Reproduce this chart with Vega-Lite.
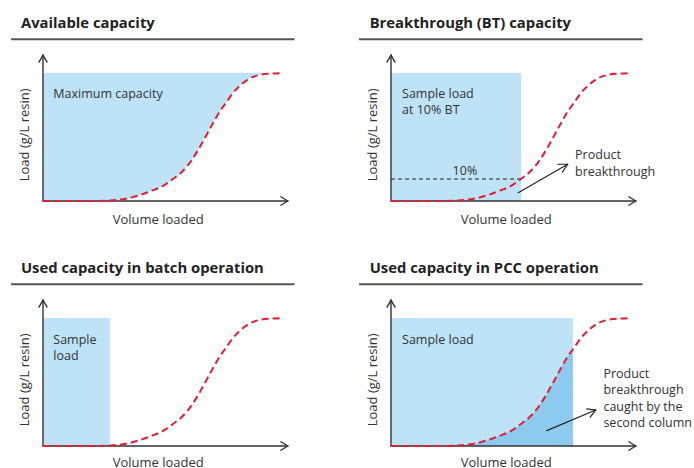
{
  "$schema": "https://vega.github.io/schema/vega-lite/v6.json",
  "padding": 0,
  "bounds": "flush",
  "spacing": 0,
  "columns": 2,
  "config": {"view": {"stroke": null}},
  "datasets": {
    "curve": [
      {"x": 0, "y": 0}, {"x": 10, "y": 0}, {"x": 20, "y": 0}, {"x": 28, "y": 0.4},
      {"x": 34, "y": 1.6}, {"x": 40, "y": 4.4}, {"x": 45, "y": 7.8}, {"x": 50, "y": 11.8},
      {"x": 54, "y": 17}, {"x": 58, "y": 23}, {"x": 62, "y": 32}, {"x": 65, "y": 41},
      {"x": 70, "y": 58}, {"x": 74, "y": 71}, {"x": 75.8, "y": 75.6}, {"x": 79, "y": 84},
      {"x": 85, "y": 94.5}, {"x": 90, "y": 98.4}, {"x": 95, "y": 99.5}, {"x": 100, "y": 100}
    ],
    "segs": [
      {"panel": "all", "kind": "axis", "x": 0, "y": 0, "x2": 0, "y2": 114},
      {"panel": "all", "kind": "axis", "x": 0, "y": 114, "x2": -1.667, "y2": 108.5},
      {"panel": "all", "kind": "axis", "x": 0, "y": 114, "x2": 1.667, "y2": 108.5},
      {"panel": "all", "kind": "axis", "x": 0, "y": 0, "x2": 102, "y2": 0},
      {"panel": "all", "kind": "axis", "x": 102, "y": 0, "x2": 99.1, "y2": 3.3},
      {"panel": "all", "kind": "axis", "x": 102, "y": 0, "x2": 99.1, "y2": -3.3},
      {"panel": "all", "kind": "under", "x": -13.3, "y": 126.4, "x2": 104.8, "y2": 126.4},
      {"panel": "p2", "kind": "dash", "x": 0, "y": 17.2, "x2": 54.2, "y2": 17.2},
      {"panel": "p2", "kind": "arrow", "x": 53.0, "y": 6.5, "x2": 73.6, "y2": 28.7},
      {"panel": "p2", "kind": "arrow", "x": 73.6, "y": 28.7, "x2": 69.5, "y2": 28.7},
      {"panel": "p2", "kind": "arrow", "x": 73.6, "y": 28.7, "x2": 71.4, "y2": 22.6},
      {"panel": "p4", "kind": "arrow", "x": 64.9, "y": 12.0, "x2": 85.3, "y2": 28.1},
      {"panel": "p4", "kind": "arrow", "x": 85.3, "y": 28.1, "x2": 81.6, "y2": 29.0},
      {"panel": "p4", "kind": "arrow", "x": 85.3, "y": 28.1, "x2": 83.0, "y2": 22.5}
    ],
    "rects": [
      {"panel": "p2", "x": 0, "x2": 54.2, "y": 0, "y2": 100},
      {"panel": "p3", "x": 0, "x2": 27.9, "y": 0, "y2": 100},
      {"panel": "p4", "x": 0, "x2": 75.8, "y": 0, "y2": 100}
    ],
    "labels": [
      {"panel": "p1", "kind": "title", "x": -9.2, "y": 134.9, "text": "Available capacity"},
      {"panel": "p2", "kind": "title", "x": -8.9, "y": 134.9, "text": "Breakthrough (BT) capacity"},
      {"panel": "p3", "kind": "title", "x": -9.2, "y": 134.9, "text": "Used capacity in batch operation"},
      {"panel": "p4", "kind": "title", "x": -8.9, "y": 134.9, "text": "Used capacity in PCC operation"},
      {"panel": "p1", "kind": "note", "x": 4.3, "y": 80.7, "text": "Maximum capacity"},
      {"panel": "p2", "kind": "note", "x": 4.6, "y": 80.7, "text": "Sample load\nat 10% BT"},
      {"panel": "p2", "kind": "note", "x": 76.7, "y": 32.6, "text": "Product\nbreakthrough"},
      {"panel": "p2", "kind": "mid", "x": 30.8, "y": 20, "text": "10%"},
      {"panel": "p3", "kind": "note", "x": 4.3, "y": 79.9, "text": "Sample\nload"},
      {"panel": "p4", "kind": "note", "x": 4.6, "y": 79.9, "text": "Sample load"},
      {"panel": "p4", "kind": "note", "x": 88.5, "y": 53.4, "text": "Product\nbreakthrough\ncaught by the\nsecond column"},
      {"panel": "top", "kind": "xl", "x": 48, "y": -18, "text": "Volume loaded"},
      {"panel": "bottom", "kind": "xl", "x": 48, "y": -16.3, "text": "Volume loaded"},
      {"panel": "all", "kind": "yl", "x": -5.7, "y": 51.7, "text": "Load (g/L resin)"}
    ]
  },
  "concat": [
    {
      "width": 347, "height": 234,
      "encoding": {
        "x": {"field": "x", "type": "quantitative", "scale": {"domain": [-17.917, 126.667], "nice": false, "zero": false}, "axis": null},
        "y": {"field": "y", "type": "quantitative", "scale": {"domain": [-25.781, 157.031], "nice": false, "zero": false}, "axis": null}
      },
      "layer": [
        {"data": {"name": "curve"}, "mark": {"type": "area", "color": "#bee3f7", "opacity": 1, "interpolate": "monotone"}, "encoding": {"y2": {"datum": 100}}},
        {"data": {"name": "segs"}, "transform": [{"filter": "datum.kind == 'axis'"}], "mark": {"type": "rule", "color": "#333333", "strokeWidth": 1.4, "strokeCap": "round"}, "encoding": {"x2": {"field": "x2"}, "y2": {"field": "y2"}}},
        {"data": {"name": "segs"}, "transform": [{"filter": "datum.kind == 'under'"}], "mark": {"type": "rule", "color": "#555555", "strokeWidth": 2}, "encoding": {"x2": {"field": "x2"}, "y2": {"field": "y2"}}},
        {"data": {"name": "curve"}, "mark": {"type": "line", "color": "#e21f36", "strokeWidth": 2, "strokeDash": [7, 4], "interpolate": "monotone"}},
        {"data": {"name": "labels"}, "transform": [{"filter": "datum.panel == 'p1' && datum.kind == 'title'"}], "mark": {"type": "text", "font": "Open Sans", "fontWeight": "bold", "fontSize": 14.8, "color": "#222222", "align": "left", "baseline": "alphabetic"}, "encoding": {"text": {"field": "text"}}},
        {"data": {"name": "labels"}, "transform": [{"filter": "datum.panel == 'p1' && datum.kind == 'note'"}], "mark": {"type": "text", "font": "Open Sans", "fontSize": 12.5, "color": "#333333", "align": "left", "baseline": "alphabetic", "lineBreak": "\n", "lineHeight": 16.5}, "encoding": {"text": {"field": "text"}}},
        {"data": {"name": "labels"}, "transform": [{"filter": "datum.kind == 'xl' && datum.panel == 'top'"}], "mark": {"type": "text", "font": "Open Sans", "fontSize": 13, "color": "#333333", "align": "center", "baseline": "alphabetic"}, "encoding": {"text": {"field": "text"}}},
        {"data": {"name": "labels"}, "transform": [{"filter": "datum.kind == 'yl'"}], "mark": {"type": "text", "font": "Open Sans", "fontSize": 13, "color": "#333333", "align": "center", "baseline": "alphabetic", "angle": 270}, "encoding": {"text": {"field": "text"}}}
      ]
    },
    {
      "width": 347, "height": 234,
      "encoding": {
        "x": {"field": "x", "type": "quantitative", "scale": {"domain": [-18.333, 126.25], "nice": false, "zero": false}, "axis": null},
        "y": {"field": "y", "type": "quantitative", "scale": {"domain": [-25.781, 157.031], "nice": false, "zero": false}, "axis": null}
      },
      "layer": [
        {"data": {"name": "rects"}, "transform": [{"filter": "datum.panel == 'p2'"}], "mark": {"type": "rect", "color": "#bee3f7", "opacity": 1}, "encoding": {"x2": {"field": "x2"}, "y2": {"field": "y2"}}},
        {"data": {"name": "segs"}, "transform": [{"filter": "datum.kind == 'axis'"}], "mark": {"type": "rule", "color": "#333333", "strokeWidth": 1.4, "strokeCap": "round"}, "encoding": {"x2": {"field": "x2"}, "y2": {"field": "y2"}}},
        {"data": {"name": "segs"}, "transform": [{"filter": "datum.kind == 'under'"}], "mark": {"type": "rule", "color": "#555555", "strokeWidth": 2}, "encoding": {"x2": {"field": "x2"}, "y2": {"field": "y2"}}},
        {"data": {"name": "segs"}, "transform": [{"filter": "datum.panel == 'p2' && datum.kind == 'dash'"}], "mark": {"type": "rule", "color": "#222222", "strokeWidth": 1.2, "strokeDash": [4, 3]}, "encoding": {"x2": {"field": "x2"}, "y2": {"field": "y2"}}},
        {"data": {"name": "segs"}, "transform": [{"filter": "datum.panel == 'p2' && datum.kind == 'arrow'"}], "mark": {"type": "rule", "color": "#222222", "strokeWidth": 1.2, "strokeCap": "round"}, "encoding": {"x2": {"field": "x2"}, "y2": {"field": "y2"}}},
        {"data": {"name": "curve"}, "mark": {"type": "line", "color": "#e21f36", "strokeWidth": 2, "strokeDash": [7, 4], "interpolate": "monotone"}},
        {"data": {"name": "labels"}, "transform": [{"filter": "datum.panel == 'p2' && datum.kind == 'title'"}], "mark": {"type": "text", "font": "Open Sans", "fontWeight": "bold", "fontSize": 14.8, "color": "#222222", "align": "left", "baseline": "alphabetic"}, "encoding": {"text": {"field": "text"}}},
        {"data": {"name": "labels"}, "transform": [{"filter": "datum.panel == 'p2' && datum.kind == 'note'"}], "mark": {"type": "text", "font": "Open Sans", "fontSize": 12.5, "color": "#333333", "align": "left", "baseline": "alphabetic", "lineBreak": "\n", "lineHeight": 16.5}, "encoding": {"text": {"field": "text"}}},
        {"data": {"name": "labels"}, "transform": [{"filter": "datum.panel == 'p2' && datum.kind == 'mid'"}], "mark": {"type": "text", "font": "Open Sans", "fontSize": 12.5, "color": "#333333", "align": "center", "baseline": "alphabetic"}, "encoding": {"text": {"field": "text"}}},
        {"data": {"name": "labels"}, "transform": [{"filter": "datum.kind == 'xl' && datum.panel == 'top'"}], "mark": {"type": "text", "font": "Open Sans", "fontSize": 13, "color": "#333333", "align": "center", "baseline": "alphabetic"}, "encoding": {"text": {"field": "text"}}},
        {"data": {"name": "labels"}, "transform": [{"filter": "datum.kind == 'yl'"}], "mark": {"type": "text", "font": "Open Sans", "fontSize": 13, "color": "#333333", "align": "center", "baseline": "alphabetic", "angle": 270}, "encoding": {"text": {"field": "text"}}}
      ]
    },
    {
      "width": 347, "height": 234,
      "encoding": {
        "x": {"field": "x", "type": "quantitative", "scale": {"domain": [-17.917, 126.667], "nice": false, "zero": false}, "axis": null},
        "y": {"field": "y", "type": "quantitative", "scale": {"domain": [-17.1875, 165.625], "nice": false, "zero": false}, "axis": null}
      },
      "layer": [
        {"data": {"name": "rects"}, "transform": [{"filter": "datum.panel == 'p3'"}], "mark": {"type": "rect", "color": "#bee3f7", "opacity": 1}, "encoding": {"x2": {"field": "x2"}, "y2": {"field": "y2"}}},
        {"data": {"name": "segs"}, "transform": [{"filter": "datum.kind == 'axis'"}], "mark": {"type": "rule", "color": "#333333", "strokeWidth": 1.4, "strokeCap": "round"}, "encoding": {"x2": {"field": "x2"}, "y2": {"field": "y2"}}},
        {"data": {"name": "segs"}, "transform": [{"filter": "datum.kind == 'under'"}], "mark": {"type": "rule", "color": "#555555", "strokeWidth": 2}, "encoding": {"x2": {"field": "x2"}, "y2": {"field": "y2"}}},
        {"data": {"name": "curve"}, "mark": {"type": "line", "color": "#e21f36", "strokeWidth": 2, "strokeDash": [7, 4], "interpolate": "monotone"}},
        {"data": {"name": "labels"}, "transform": [{"filter": "datum.panel == 'p3' && datum.kind == 'title'"}], "mark": {"type": "text", "font": "Open Sans", "fontWeight": "bold", "fontSize": 14.8, "color": "#222222", "align": "left", "baseline": "alphabetic"}, "encoding": {"text": {"field": "text"}}},
        {"data": {"name": "labels"}, "transform": [{"filter": "datum.panel == 'p3' && datum.kind == 'note'"}], "mark": {"type": "text", "font": "Open Sans", "fontSize": 12.5, "color": "#333333", "align": "left", "baseline": "alphabetic", "lineBreak": "\n", "lineHeight": 16.5}, "encoding": {"text": {"field": "text"}}},
        {"data": {"name": "labels"}, "transform": [{"filter": "datum.kind == 'xl' && datum.panel == 'bottom'"}], "mark": {"type": "text", "font": "Open Sans", "fontSize": 13, "color": "#333333", "align": "center", "baseline": "alphabetic"}, "encoding": {"text": {"field": "text"}}},
        {"data": {"name": "labels"}, "transform": [{"filter": "datum.kind == 'yl'"}], "mark": {"type": "text", "font": "Open Sans", "fontSize": 13, "color": "#333333", "align": "center", "baseline": "alphabetic", "angle": 270}, "encoding": {"text": {"field": "text"}}}
      ]
    },
    {
      "width": 347, "height": 234,
      "encoding": {
        "x": {"field": "x", "type": "quantitative", "scale": {"domain": [-18.333, 126.25], "nice": false, "zero": false}, "axis": null},
        "y": {"field": "y", "type": "quantitative", "scale": {"domain": [-17.1875, 165.625], "nice": false, "zero": false}, "axis": null}
      },
      "layer": [
        {"data": {"name": "rects"}, "transform": [{"filter": "datum.panel == 'p4'"}], "mark": {"type": "rect", "color": "#bee3f7", "opacity": 1}, "encoding": {"x2": {"field": "x2"}, "y2": {"field": "y2"}}},
        {"data": {"name": "curve"}, "transform": [{"filter": "datum.x <= 75.8"}], "mark": {"type": "area", "color": "#8ccbef", "opacity": 1, "interpolate": "monotone"}, "encoding": {"y2": {"datum": 0}}},
        {"data": {"name": "segs"}, "transform": [{"filter": "datum.kind == 'axis'"}], "mark": {"type": "rule", "color": "#333333", "strokeWidth": 1.4, "strokeCap": "round"}, "encoding": {"x2": {"field": "x2"}, "y2": {"field": "y2"}}},
        {"data": {"name": "segs"}, "transform": [{"filter": "datum.kind == 'under'"}], "mark": {"type": "rule", "color": "#555555", "strokeWidth": 2}, "encoding": {"x2": {"field": "x2"}, "y2": {"field": "y2"}}},
        {"data": {"name": "segs"}, "transform": [{"filter": "datum.panel == 'p4' && datum.kind == 'arrow'"}], "mark": {"type": "rule", "color": "#222222", "strokeWidth": 1.2, "strokeCap": "round"}, "encoding": {"x2": {"field": "x2"}, "y2": {"field": "y2"}}},
        {"data": {"name": "curve"}, "mark": {"type": "line", "color": "#e21f36", "strokeWidth": 2, "strokeDash": [7, 4], "interpolate": "monotone"}},
        {"data": {"name": "labels"}, "transform": [{"filter": "datum.panel == 'p4' && datum.kind == 'title'"}], "mark": {"type": "text", "font": "Open Sans", "fontWeight": "bold", "fontSize": 14.8, "color": "#222222", "align": "left", "baseline": "alphabetic"}, "encoding": {"text": {"field": "text"}}},
        {"data": {"name": "labels"}, "transform": [{"filter": "datum.panel == 'p4' && datum.kind == 'note'"}], "mark": {"type": "text", "font": "Open Sans", "fontSize": 12.5, "color": "#333333", "align": "left", "baseline": "alphabetic", "lineBreak": "\n", "lineHeight": 16.5}, "encoding": {"text": {"field": "text"}}},
        {"data": {"name": "labels"}, "transform": [{"filter": "datum.kind == 'xl' && datum.panel == 'bottom'"}], "mark": {"type": "text", "font": "Open Sans", "fontSize": 13, "color": "#333333", "align": "center", "baseline": "alphabetic"}, "encoding": {"text": {"field": "text"}}},
        {"data": {"name": "labels"}, "transform": [{"filter": "datum.kind == 'yl'"}], "mark": {"type": "text", "font": "Open Sans", "fontSize": 13, "color": "#333333", "align": "center", "baseline": "alphabetic", "angle": 270}, "encoding": {"text": {"field": "text"}}}
      ]
    }
  ]
}
